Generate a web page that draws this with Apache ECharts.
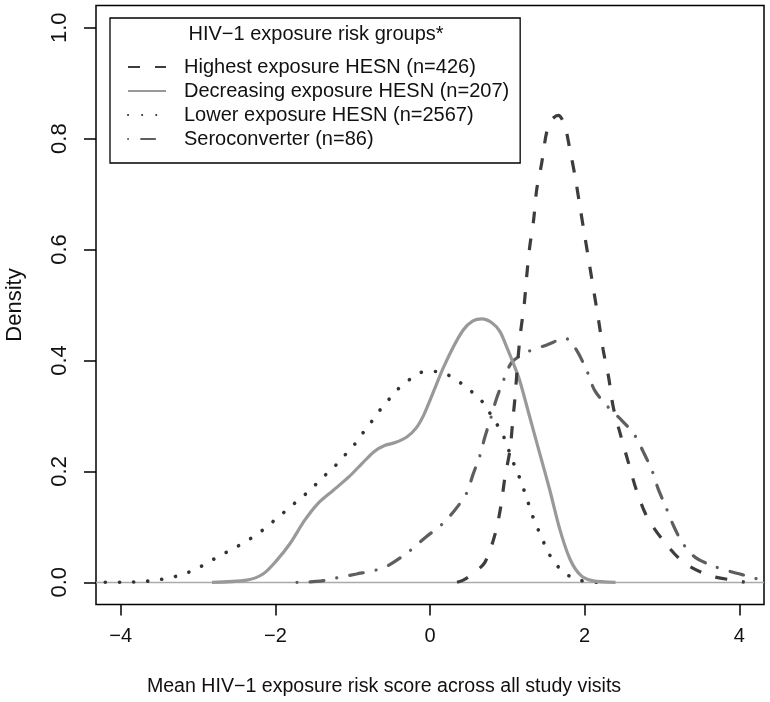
<!DOCTYPE html>
<html>
<head>
<meta charset="utf-8">
<script src="https://cdn.jsdelivr.net/npm/echarts@6/dist/echarts.min.js"></script>
<style>
html,body{margin:0;padding:0;background:#fff;}
#chart{width:770px;height:702px;}
</style>
</head>
<body>
<div id="chart"></div>
<script>
// ---- data ----
const legendTitle = 'HIV\u22121 exposure risk groups*';
const seriesNames = [
  'Highest exposure HESN (n=426)',
  'Decreasing exposure HESN (n=207)',
  'Lower exposure HESN (n=2567)',
  'Seroconverter (n=86)'
];
const xTicks = [-4, -2, 0, 2, 4];
const yTicks = [0, 0.2, 0.4, 0.6, 0.8, 1.0];

const highest = [[0.35,0],[0.43,0.004],[0.55,0.015],[0.71,0.036],[0.84,0.086],[0.915,0.136],[0.97,0.19],[1.035,0.239],[1.07,0.291],[1.10,0.334],[1.136,0.40],[1.17,0.449],[1.22,0.503],[1.25,0.551],[1.29,0.605],[1.34,0.653],[1.38,0.708],[1.445,0.756],[1.51,0.812],[1.58,0.835],[1.66,0.842],[1.74,0.825],[1.81,0.78],[1.88,0.729],[1.94,0.677],[2.0,0.626],[2.06,0.575],[2.12,0.524],[2.18,0.473],[2.24,0.419],[2.31,0.37],[2.37,0.316],[2.46,0.268],[2.57,0.214],[2.67,0.166],[2.81,0.117],[3.02,0.075],[3.28,0.036],[3.62,0.012],[4.01,0.002],[4.07,0]];

const decreasing = [[-2.82,0],[-2.37,0.004],[-2.16,0.015],[-1.98,0.04],[-1.81,0.07],[-1.62,0.112],[-1.45,0.142],[-1.25,0.166],[-1.05,0.19],[-0.88,0.214],[-0.72,0.236],[-0.58,0.247],[-0.45,0.252],[-0.30,0.262],[-0.18,0.278],[-0.08,0.302],[0.04,0.342],[0.17,0.386],[0.30,0.424],[0.43,0.455],[0.55,0.471],[0.67,0.475],[0.80,0.468],[0.905,0.452],[0.99,0.425],[1.08,0.394],[1.16,0.364],[1.29,0.298],[1.42,0.232],[1.55,0.166],[1.68,0.095],[1.81,0.042],[1.94,0.014],[2.1,0.003],[2.4,0]];

const lower = [[-4.2,0],[-3.97,0],[-3.78,0.001],[-3.59,0.003],[-3.41,0.007],[-3.23,0.013],[-3.04,0.023],[-2.88,0.035],[-2.72,0.048],[-2.55,0.06],[-2.38,0.074],[-2.23,0.087],[-2.08,0.104],[-1.94,0.12],[-1.80,0.137],[-1.65,0.154],[-1.51,0.172],[-1.38,0.19],[-1.24,0.208],[-1.11,0.228],[-0.99,0.246],[-0.88,0.267],[-0.76,0.289],[-0.65,0.31],[-0.53,0.33],[-0.41,0.349],[-0.26,0.366],[-0.10,0.379],[0.09,0.38],[0.26,0.372],[0.42,0.357],[0.57,0.34],[0.70,0.322],[0.80,0.299],[0.90,0.277],[0.98,0.254],[1.04,0.229],[1.11,0.205],[1.18,0.181],[1.24,0.156],[1.30,0.131],[1.36,0.107],[1.44,0.083],[1.51,0.059],[1.61,0.036],[1.74,0.017],[1.90,0.005],[2.09,0.001],[2.15,0]];

const seroconverter = [[-1.72,0],[-1.42,0.002],[-1.21,0.008],[-0.95,0.015],[-0.70,0.022],[-0.52,0.032],[-0.26,0.057],[-0.06,0.081],[0.15,0.104],[0.32,0.13],[0.47,0.16],[0.56,0.196],[0.64,0.226],[0.71,0.262],[0.79,0.298],[0.86,0.331],[0.95,0.364],[1.06,0.397],[1.27,0.416],[1.51,0.428],[1.75,0.44],[1.88,0.422],[2.03,0.381],[2.13,0.346],[2.29,0.318],[2.48,0.292],[2.64,0.267],[2.76,0.235],[2.87,0.202],[2.95,0.169],[3.05,0.136],[3.15,0.102],[3.27,0.07],[3.43,0.045],[3.67,0.029],[3.92,0.018],[4.17,0.009],[4.3,0.002]];

const FONT = '"Liberation Sans", Arial, Helvetica, sans-serif';
const chart = echarts.init(document.getElementById('chart'), null, {renderer: 'canvas'});

function minusFmt(v) { return v < 0 ? '\u2212' + Math.abs(v) : String(v); }

const lineBase = { type: 'line', symbol: 'none', showSymbol: false, smooth: 0.3, animation: false, z: 3 };

const option = {
  backgroundColor: '#fff',
  animation: false,
  textStyle: { fontFamily: FONT },
  title: {
    text: legendTitle,
    left: 316, top: 24, textAlign: 'center', padding: 0,
    textStyle: { fontFamily: FONT, fontSize: 20, fontWeight: 'normal', color: '#111' },
    z: 10
  },
  legend: {
    orient: 'vertical',
    left: 110, top: 18,
    padding: [37, 11, 12, 17],
    itemGap: 0,
    itemWidth: 38, itemHeight: 14,
    borderColor: '#000', borderWidth: 1.3,
    backgroundColor: '#fff',
    selectedMode: false,
    data: seriesNames,
    itemStyle: { opacity: 0 },
    textStyle: { fontFamily: FONT, fontSize: 20, color: '#111', lineHeight: 24, padding: [0, 0, 0, 13] },
    z: 9
  },
  grid: {
    left: 96, right: 6, top: 5.5, bottom: 97.5,
    show: true, borderColor: '#000', borderWidth: 1.5,
    containLabel: false, outerBoundsMode: 'none'
  },
  xAxis: {
    type: 'value', min: -4.32, max: 4.32,
    splitLine: { show: false },
    axisLine: { show: false, onZero: false },
    axisTick: { show: true, length: 11, customValues: xTicks, lineStyle: { color: '#000', width: 1.5 } },
    axisLabel: { customValues: xTicks, formatter: minusFmt, margin: 22, fontSize: 20, color: '#111', fontFamily: FONT },
    name: 'Mean HIV\u22121 exposure risk score across all study visits',
    nameLocation: 'middle', nameGap: 72,
    nameTextStyle: { fontSize: 19.6, color: '#111', fontFamily: FONT, padding: [0, 92, 0, 0] }
  },
  yAxis: {
    type: 'value', min: -0.04, max: 1.04,
    splitLine: { show: false },
    axisLine: { show: false, onZero: false },
    axisTick: { show: true, length: 12, customValues: yTicks, lineStyle: { color: '#000', width: 1.5 } },
    axisLabel: { customValues: yTicks, formatter: v => v.toFixed(1), rotate: 90, margin: 25, fontSize: 22, color: '#111', fontFamily: FONT },
    name: 'Density',
    nameLocation: 'middle', nameGap: 70, nameRotate: 90,
    nameTextStyle: { fontSize: 22, color: '#111', fontFamily: FONT }
  },
  series: [
    Object.assign({}, lineBase, {
      name: seriesNames[0], data: highest, z: 5,
      lineStyle: { color: '#3d3d3d', width: 3.2, type: [12, 15], cap: 'butt' },
      itemStyle: { color: '#3d3d3d' },
      markLine: {
        silent: true, symbol: 'none', animation: false,
        label: { show: false },
        lineStyle: { color: '#aaaaaa', width: 1.3, type: 'solid' },
        data: [{ yAxis: 0 }],
        z: 1
      }
    }),
    Object.assign({}, lineBase, {
      name: seriesNames[1], data: decreasing, z: 4,
      lineStyle: { color: '#999999', width: 3.2, type: 'solid' },
      itemStyle: { color: '#999999' }
    }),
    Object.assign({}, lineBase, {
      name: seriesNames[2], data: lower,
      lineStyle: { color: '#333333', width: 3.6, type: [0.1, 14], cap: 'round' },
      itemStyle: { color: '#333333' }
    }),
    Object.assign({}, lineBase, {
      name: seriesNames[3], data: seroconverter,
      lineStyle: { color: '#5e5e5e', width: 3.2, type: [0.1, 13, 14, 13], cap: 'round' },
      itemStyle: { color: '#5e5e5e' }
    })
  ]
};
chart.setOption(option);
</script>
</body>
</html>
